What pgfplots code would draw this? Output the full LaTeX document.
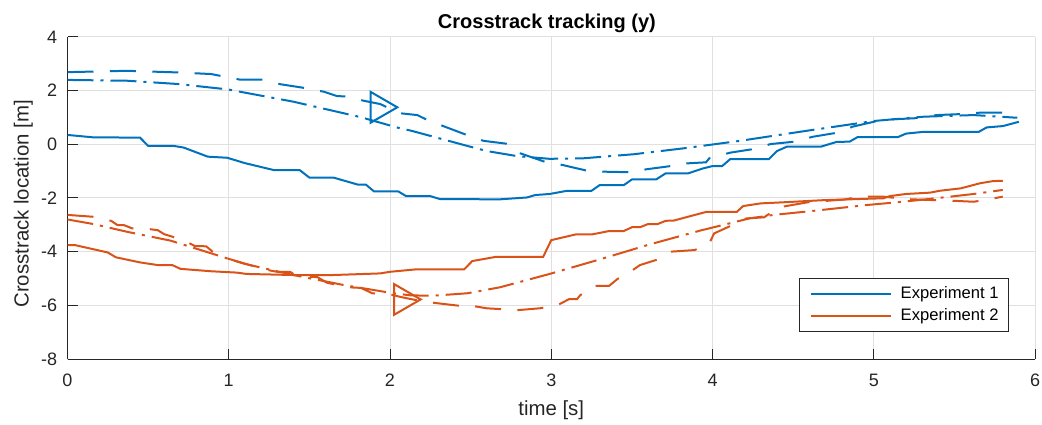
\documentclass[border=0pt]{standalone}
\usepackage{fontspec}
\setmainfont{Liberation Sans}
\usepackage{pgfplots}
\pgfplotsset{compat=1.18}
\definecolor{mblue}{rgb}{0,0.447,0.741}
\definecolor{morange}{rgb}{0.85,0.325,0.098}
\definecolor{axgray}{rgb}{0.15,0.15,0.15}
\definecolor{gridgray}{rgb}{0.88,0.88,0.88}
\begin{document}
\begin{tikzpicture}
\begin{axis}[
  at={(0,0)}, anchor=south west,
  scale only axis, width=483.75pt, height=161pt,
  xmin=0, xmax=6, ymin=-8, ymax=4,
  axis lines=left,
  axis line style={-, draw=axgray, line width=0.5pt},
  xtick={0,1,2,3,4,5,6}, ytick={-8,-6,-4,-2,0,2,4},
  xticklabels={0,1,2,3,4,5,6}, yticklabels={-8,-6,-4,-2,0,2,4},
  tick align=inside, major tick length=5pt,
  tick style={draw=axgray, line width=0.5pt},
  grid=major, grid style={draw=gridgray, line width=0.5pt},
  ticklabel style={font=\fontsize{9}{10}\selectfont, text=axgray, inner sep=0pt},
  xticklabel style={anchor=north, yshift=-7.5pt},
  yticklabel style={anchor=east, xshift=-5pt},
  title={Crosstrack tracking (y)},
  title style={font=\fontsize{10}{12}\selectfont\bfseries, at={(axis description cs:0.4955,1)}, anchor=base, yshift=-1.65pt, inner sep=0pt},
  xlabel={time [s]},
  xlabel style={font=\fontsize{10.2}{12}\selectfont, text=axgray, at={(axis description cs:0.5,0)}, anchor=base, yshift=-28pt, inner sep=0pt},
  ylabel={Crosstrack location [m]},
  ylabel style={font=\fontsize{10.2}{12}\selectfont, text=axgray, at={(axis description cs:-0.0403,0.4814)}, anchor=base, inner sep=0pt},
  legend style={at={(axis description cs:1,0)}, anchor=south east, xshift=-13pt, yshift=13.5pt,
    draw=axgray, line width=0.5pt, fill=white, font=\fontsize{8.3}{10}\selectfont,
    inner xsep=5pt, inner ysep=3.8pt, row sep=2.9pt,
    nodes={inner sep=0pt, text height=6.4pt, text depth=1.7pt}},
  legend cell align=left,
  legend image code/.code={\draw[#1, line width=1pt] (0pt,0pt) -- (40pt,0pt);},
  /tikz/every odd column/.append style={column sep=4.5pt},
  every axis plot/.append style={line width=1pt},
]
% Experiment 1 actual
\addplot[mblue, solid] coordinates {
(0,0.35)(0.16,0.26)(0.45,0.25)(0.50,-0.06)(0.66,-0.06)(0.72,-0.12)(0.87,-0.46)(0.99,-0.50)(1.10,-0.70)(1.28,-0.96)(1.44,-0.96)(1.50,-1.24)(1.65,-1.24)(1.80,-1.50)(1.85,-1.50)(1.90,-1.75)(2.05,-1.75)(2.10,-1.93)(2.25,-1.93)(2.31,-2.04)(2.68,-2.05)(2.85,-1.98)(2.90,-1.89)(2.99,-1.85)(3.10,-1.73)(3.25,-1.73)(3.30,-1.52)(3.45,-1.52)(3.50,-1.31)(3.65,-1.31)(3.71,-1.08)(3.85,-1.08)(3.94,-0.90)(4.00,-0.81)(4.06,-0.81)(4.11,-0.55)(4.35,-0.55)(4.40,-0.25)(4.46,-0.09)(4.67,-0.09)(4.77,0.09)(4.85,0.10)(4.90,0.27)(5.15,0.27)(5.20,0.40)(5.30,0.46)(5.65,0.46)(5.70,0.63)(5.80,0.68)(5.90,0.84)
};
\addlegendentry{Experiment 1}
% Experiment 2 actual
\addplot[morange, solid] coordinates {
(0,-3.76)(0.05,-3.76)(0.25,-4.03)(0.30,-4.21)(0.45,-4.40)(0.56,-4.50)(0.65,-4.50)(0.70,-4.64)(0.89,-4.73)(1.05,-4.78)(1.11,-4.83)(1.40,-4.87)(1.65,-4.87)(1.94,-4.81)(2.00,-4.75)(2.16,-4.66)(2.46,-4.66)(2.51,-4.35)(2.66,-4.19)(2.95,-4.19)(3.00,-3.57)(3.15,-3.36)(3.25,-3.36)(3.36,-3.23)(3.45,-3.23)(3.50,-3.09)(3.55,-3.09)(3.60,-2.97)(3.66,-2.97)(3.71,-2.85)(3.76,-2.84)(3.96,-2.52)(4.15,-2.52)(4.19,-2.30)(4.30,-2.20)(4.44,-2.16)(4.69,-2.08)(5.06,-2.01)(5.10,-1.93)(5.20,-1.85)(5.35,-1.80)(5.41,-1.73)(5.54,-1.64)(5.66,-1.45)(5.74,-1.37)(5.80,-1.36)
};
\addlegendentry{Experiment 2}
% Experiment 1 reference (dash-dot)
\addplot[mblue, dash pattern=on 13pt off 3.5pt on 1.5pt off 3.5pt, forget plot] coordinates {
(0,2.40)(0.37,2.37)(0.68,2.25)(0.99,2.05)(1.40,1.59)(1.82,1.01)(2.06,0.60)(2.13,0.51)(2.48,-0.06)(2.60,-0.25)(2.79,-0.44)(2.99,-0.54)(3.20,-0.52)(3.51,-0.37)(3.82,-0.15)(4.17,0.13)(4.59,0.51)(5.00,0.87)(5.31,1.03)(5.62,1.09)(5.89,0.99)
};
% Experiment 1 dashed
\addplot[mblue, dash pattern=on 13pt off 8.2pt, forget plot] coordinates {
(0,2.69)(0.37,2.74)(0.68,2.68)(0.89,2.62)(0.95,2.55)(1.07,2.41)(1.22,2.41)(1.32,2.24)(1.46,2.11)(1.59,1.96)(1.67,1.80)(1.73,1.78)(1.84,1.62)(1.94,1.50)(2.06,1.16)(2.17,1.09)(2.23,0.91)(2.33,0.68)(2.48,0.34)(2.58,0.13)(2.74,0.01)(2.81,-0.34)(2.96,-0.65)(3.07,-0.77)(3.22,-0.98)(3.33,-1.02)(3.49,-1.04)(3.59,-0.93)(3.74,-0.81)(3.84,-0.71)(3.96,-0.67)(3.98,-0.52)(4.11,-0.31)(4.25,-0.18)(4.36,0.01)(4.51,0.10)(4.62,0.28)(4.77,0.43)(4.87,0.66)(5.00,0.84)(5.11,0.93)(5.25,0.97)(5.39,1.09)(5.55,1.13)(5.66,1.18)(5.81,1.18)
};
% Experiment 2 reference (dash-dot)
\addplot[morange, dash pattern=on 13pt off 3.5pt on 1.5pt off 3.5pt, forget plot] coordinates {
(0,-2.80)(0.16,-2.97)(0.37,-3.26)(0.64,-3.59)(0.89,-4.06)(1.09,-4.44)(1.40,-4.87)(1.71,-5.24)(2.02,-5.55)(2.13,-5.63)(2.27,-5.64)(2.48,-5.55)(2.68,-5.33)(2.99,-4.83)(3.30,-4.29)(3.61,-3.73)(3.92,-3.22)(4.23,-2.76)(4.38,-2.63)(4.64,-2.47)(4.96,-2.26)(5.18,-2.14)(5.40,-2.00)(5.62,-1.85)(5.80,-1.70)
};
% Experiment 2 dashed
\addplot[morange, dash pattern=on 13pt off 8.2pt, forget plot] coordinates {
(0,-2.63)(0.16,-2.70)(0.27,-2.85)(0.31,-3.01)(0.35,-3.01)(0.40,-3.13)(0.51,-3.16)(0.56,-3.20)(0.60,-3.35)(0.65,-3.44)(0.75,-3.67)(0.79,-3.79)(0.86,-3.80)(0.90,-4.00)(0.99,-4.25)(1.22,-4.66)(1.30,-4.75)(1.38,-4.75)(1.40,-4.83)(1.49,-4.93)(1.55,-4.95)(1.61,-5.16)(1.75,-5.33)(1.82,-5.35)(1.89,-5.55)(2.02,-5.62)(2.06,-5.68)(2.14,-5.78)(2.25,-5.89)(2.42,-6.01)(2.52,-6.03)(2.60,-6.11)(2.79,-6.18)(2.93,-6.11)(3.04,-5.99)(3.11,-5.77)(3.16,-5.77)(3.18,-5.62)(3.26,-5.28)(3.36,-5.27)(3.41,-5.02)(3.50,-4.71)(3.55,-4.50)(3.65,-4.31)(3.74,-4.00)(3.89,-3.94)(3.98,-3.69)(4.01,-3.32)(4.17,-2.88)(4.21,-2.76)(4.32,-2.72)(4.41,-2.35)(4.59,-2.16)(4.83,-2.05)(4.90,-1.95)(5.06,-1.95)(5.20,-2.04)(5.37,-2.08)(5.48,-2.10)(5.62,-2.14)(5.72,-2.04)(5.80,-1.95)
};
% current position markers
\addplot[mblue, only marks, mark=triangle, mark size=8.9pt, mark options={solid, rotate=-90, fill=none, line width=1pt}, forget plot] coordinates {(1.935,1.38)};
\addplot[morange, only marks, mark=triangle, mark size=8.9pt, mark options={solid, rotate=-90, fill=none, line width=1pt}, forget plot] coordinates {(2.08,-5.78)};
\end{axis}
\pgfresetboundingbox
\path (-33.75pt,-32.5pt) rectangle (487.25pt,179.5pt);
\end{tikzpicture}
\end{document}
